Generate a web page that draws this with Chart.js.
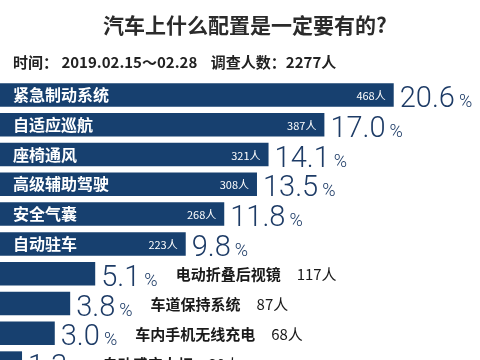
<!DOCTYPE html>
<html>
<head>
<meta charset="utf-8">
<script src="https://cdn.jsdelivr.net/npm/chart.js@4"></script>
<style>
  html, body { margin: 0; padding: 0; background: #fff; overflow: hidden; }
  #wrap { position: absolute; left: 0; top: 0; width: 480px; height: 378px; }
</style>
</head>
<body>
<div id="wrap"><canvas id="chartBar"></canvas></div>
<script>
// 数据
const categorias = ['紧急制动系统', '自适应巡航', '座椅通风', '高级辅助驾驶', '安全气囊', '自动驻车',
    '电动折叠后视镜', '车道保持系统', '车内手机无线充电', '自动感应大灯'];
const porcentajes = [20.6, 17.0, 14.1, 13.5, 11.8, 9.8, 5.1, 3.8, 3.0, 1.3];
const personas = [468, 387, 321, 308, 268, 223, 117, 87, 68, 30];

const titulo = '汽车上什么配置是一定要有的?';
const subtitulo = '时间： 2019.02.15～02.28    调查人数：2277人';

const AZUL = '#17406f';
const AZUL_TEXTO = '#1d3b66';
const CJK = "'Noto Sans CJK SC', sans-serif";
const NUM = "Roboto, 'Open Sans', sans-serif";

// textos de cabecera y etiquetas de cada barra
const etiquetasPlugin = {
    id: 'etiquetas',
    afterDraw(chart) {
        const ctx = chart.ctx;
        ctx.save();

        ctx.fillStyle = '#2b2b2b';
        ctx.textAlign = 'center';
        ctx.textBaseline = 'middle';
        ctx.font = 'bold 21px ' + CJK;
        ctx.fillText(titulo, 245, 25);

        ctx.textAlign = 'left';
        ctx.fillStyle = '#222';
        ctx.font = 'bold 15px ' + CJK;
        ctx.fillText(subtitulo, 13, 62);

        const meta = chart.getDatasetMeta(0);
        meta.data.forEach((bar, i) => {
            const dentro = porcentajes[i] > 8;
            const xFin = bar.x;
            const y = bar.y;

            if (dentro) {
                ctx.fillStyle = '#fff';
                ctx.textAlign = 'left';
                ctx.textBaseline = 'middle';
                ctx.font = 'bold 16px ' + CJK;
                ctx.fillText(categorias[i], 13, y);

                ctx.textAlign = 'right';
                ctx.font = '11px ' + CJK;
                ctx.fillText(personas[i] + '人', xFin - 8, y + 1);
            }

            // porcentaje grande
            ctx.textAlign = 'left';
            ctx.textBaseline = 'alphabetic';
            ctx.fillStyle = AZUL_TEXTO;
            ctx.font = '300 29px ' + NUM;
            const num = porcentajes[i].toFixed(1);
            let x = xFin + 6;
            ctx.fillText(num, x, y + 12);
            x += ctx.measureText(num).width + 4;
            ctx.font = '300 18px ' + NUM;
            ctx.fillText('%', x, y + 12);
            x += ctx.measureText('%').width;

            if (!dentro) {
                ctx.fillStyle = '#1a1a1a';
                ctx.textBaseline = 'middle';
                ctx.font = 'bold 15px ' + CJK;
                x += 18;
                ctx.fillText(categorias[i], x, y + 1);
                x += ctx.measureText(categorias[i]).width + 16;
                ctx.font = '15px ' + CJK;
                ctx.fillText(personas[i] + '人', x, y + 1);
            }
        });
        ctx.restore();
    }
};

new Chart(document.getElementById('chartBar').getContext('2d'), {
    type: 'bar',
    data: {
        labels: categorias,
        datasets: [{
            data: porcentajes,
            backgroundColor: AZUL,
            categoryPercentage: 1,
            barPercentage: 0.79
        }]
    },
    options: {
        indexAxis: 'y',
        responsive: true,
        maintainAspectRatio: false,
        animation: false,
        layout: { padding: { top: 80, left: 0, right: 0, bottom: 0 } },
        plugins: {
            legend: { display: false },
            tooltip: { enabled: false }
        },
        scales: {
            x: { display: false, min: 0.156, max: 25.08 },
            y: { display: false }
        }
    },
    plugins: [etiquetasPlugin]
});
</script>
</body>
</html>
